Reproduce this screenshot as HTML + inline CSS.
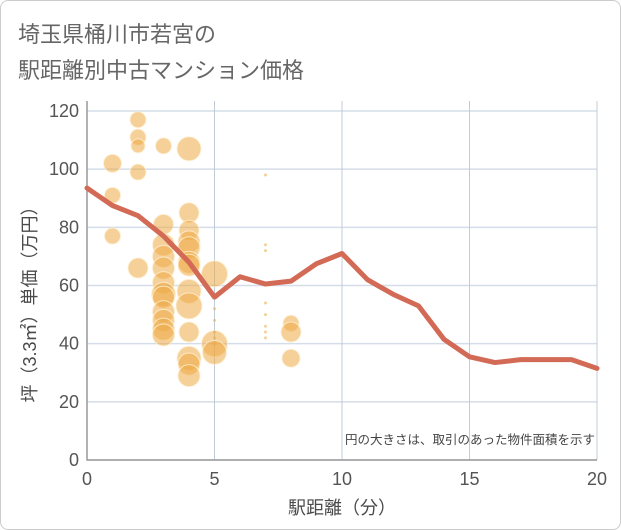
<!DOCTYPE html>
<html><head><meta charset="utf-8"><style>
body{margin:0;background:#fff;font-family:"Liberation Sans","Noto Sans CJK JP",sans-serif;}
#wrap{position:relative;width:619px;height:528px;border:1px solid #ccc;border-radius:8px;overflow:hidden;}
.title{position:absolute;left:17px;font-size:22px;color:#666;}
</style></head><body>
<div id="wrap">
<div class="title" style="top:16px">埼玉県桶川市若宮の</div>
<div class="title" style="top:52px">駅距離別中古マンション価格</div>
<svg id="chart" width="621" height="530" style="position:absolute;left:-1px;top:-1px"></svg>
</div>
<script>
const xTicks=[0,5,10,15,20];
const yTicks=[0,20,40,60,80,100,120];
const lineX=[0,1,2,3,4,5,6,7,8,9,10,11,12,13,14,15,16,17,18,19,20];
const lineY=[93.5,87.5,84,77,68,56,63,60.5,61.5,67.5,71,62,57,53,41.5,35.5,33.5,34.5,34.5,34.5,31.5];
const bubX=[1,1,1,2,2,2,2,2,3,3,3,3,3,3,3,3,3,3,3,3,4,4,4,4,4,4,4,4,4,4,4,4,4,5,5,5,5,5,5,5,5,7,7,7,7,7,7,7,7,8,8,8];
const bubY=[102,91,77,117,111,108,99,66,108,81,74,70,66,61,57,56,51,48,45,43,107,85,79,75,73,68,67,58,53,44,35,33,29,64,40,37,52,48,44,42,40,98,74,72,54,50,46,44,42,47,44,35];
const bubR=[9,8,8,8,8,7,8,10,8,10,11,11,11,11,12,11,11,11,11,11,12,10,10,11,11,11,11,12,13,10,12,11,11,13,13,12,1.5,1.5,1.5,1.5,2,1.5,1.5,1.5,1.5,1.5,1.5,1.5,1.5,8,10,9];
const svg=document.getElementById('chart');const NS='http://www.w3.org/2000/svg';
const X0=87,X1=597,Y0=460,Y1=111;
const sx=v=>X0+(X1-X0)*v/20, sy=v=>Y0-(Y0-Y1)*v/120;
function mk(t,a){const e=document.createElementNS(NS,t);for(const k in a)e.setAttribute(k,a[k]);svg.appendChild(e);return e;}
yTicks.forEach(v=>{const l=mk('line',{x1:X0,x2:X1,y1:sy(v),y2:sy(v),stroke:'#d5dde8','stroke-width':1.5});


const t=mk('text',{x:X0-8,y:sy(v)+6,'text-anchor':'end','font-size':18,fill:'#555'});t.textContent=v;

});
xTicks.forEach(v=>{const l=mk('line',{x1:sx(v),x2:sx(v),y1:Y1-10,y2:Y0,stroke:'#c0ccd8','stroke-width':1});


const t=mk('text',{x:sx(v),y:Y0+25,'text-anchor':'middle','font-size':18,fill:'#555'});t.textContent=v;

});
const ax=mk('path',{d:`M${X0} ${Y1-10}V${Y0}H${X1}`,fill:'none',stroke:'#999','stroke-width':1.5});


bubX.forEach((v,i)=>{const c=mk('circle',{cx:sx(v),cy:sy(bubY[i]),r:bubR[i],fill:'rgba(236,170,70,0.55)',stroke:bubR[i]>3?'rgba(255,240,210,0.8)':'none','stroke-width':1});

});
const p=mk('polyline',{points:lineX.map((v,i)=>sx(v)+','+sy(lineY[i])).join(' '),fill:'none',stroke:'#d26a55','stroke-width':5,'stroke-linejoin':'round','stroke-linecap':'round'});


const n=mk('text',{x:595,y:444,'text-anchor':'end','font-size':12.5,fill:'#444'});n.textContent='円の大きさは、取引のあった物件面積を示す';


const xt=mk('text',{x:342,y:514,'text-anchor':'middle','font-size':18,fill:'#4a4a4a'});xt.textContent='駅距離（分）';


const yt=mk('text',{x:0,y:0,'text-anchor':'middle','font-size':18,fill:'#4a4a4a',transform:'translate(36,300) rotate(-90)'});yt.textContent='坪（3.3㎡）単価（万円）';


</script>
</body></html>
